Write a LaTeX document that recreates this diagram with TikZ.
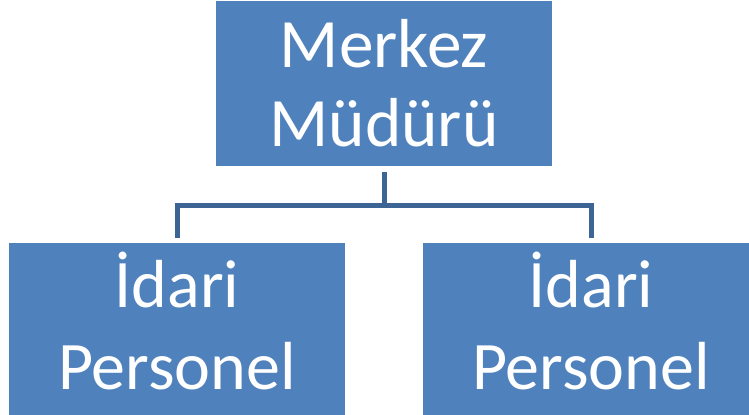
\documentclass[tikz,border=0pt]{standalone}
\usepackage{fontspec}
\setmainfont{Carlito}
\definecolor{boxblue}{HTML}{4F81BD}
\definecolor{linkblue}{HTML}{3C6595}
\begin{document}
\begin{tikzpicture}[x=0.75pt,y=-0.75pt,
  orgbox/.style={rectangle, fill=boxblue, draw=none, text=white, inner sep=0pt,
    minimum width=252pt, align=center},
  topfont/.style={font=\fontsize{52pt}{59.5pt}\selectfont},
  lowfont/.style={font=\fontsize{51pt}{61.5pt}\selectfont, text depth=12pt},
  link/.style={draw=linkblue, line width=3.75pt, shorten <=4.5pt, shorten >=3.75pt}]
\useasboundingbox (0,0) rectangle (749,414);
\begin{scope}
\clip (0,0) rectangle (749,414);
\node[orgbox, topfont, minimum height=123.75pt] (top) at (384,83.5) {Merkez\\Müdürü};
\node[orgbox, lowfont, minimum height=129pt] (left) at (177,329) {İdari\\Personel};
\node[orgbox, lowfont, minimum height=129pt] (right) at (591,329) {İdari\\Personel};
\end{scope}
\draw[link] (top.south) -- ++(0,39) -| (left.north);
\draw[link] (top.south) -- ++(0,39) -| (right.north);
\end{tikzpicture}
\end{document}
